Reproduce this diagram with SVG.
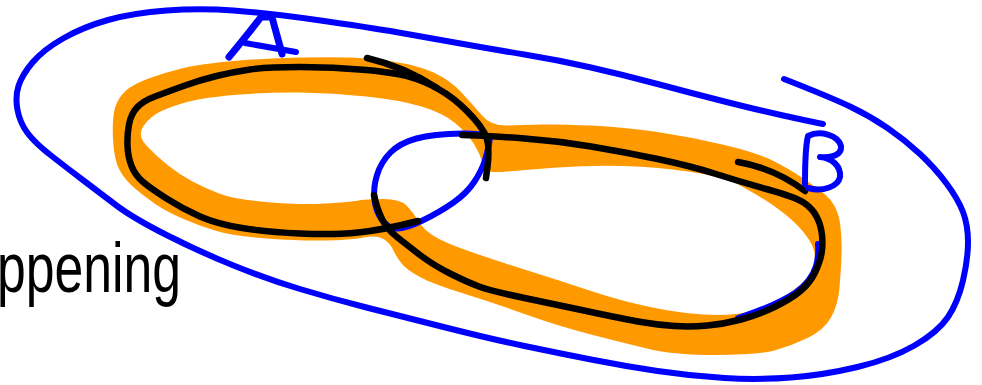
<svg xmlns="http://www.w3.org/2000/svg" width="982" height="385" viewBox="0 0 982 385">
<style>
.blue{fill:none;stroke:#0000ff;stroke-width:6;stroke-linecap:round;stroke-linejoin:round}
.ink{fill:none;stroke:#000;stroke-width:6.5;stroke-linecap:round;stroke-linejoin:round}
.hl{fill:#ff9900;fill-rule:evenodd;stroke:none}
.cap{font-family:"Liberation Sans",Arial,sans-serif;font-size:71px;fill:#000}
</style>
<rect width="982" height="385" fill="#fff"/>
<g id="highlight">
<path class="hl" d="M113,139 Q112,118 115,108 Q118,98 125.5,91 Q133,84 150,78 Q167,72 183.5,68 Q200,64 233.5,61 Q267,58 300,57.5 Q333,57 350,57.5 Q367,58 392,61.5 Q417,65 433.5,72.5 Q450,80 461.5,92.5 Q473,105 482,115.5 Q491,126 507.5,125.5 Q524,125 541,124.5 Q558,124 591,125.5 Q624,127 657.5,132 Q691,137 724.5,145 Q758,153 774.5,161.5 Q791,170 802.5,178 Q814,186 822,192 Q830,198 834.5,206 Q839,214 840.5,227 Q842,240 841.5,255 Q841,270 839.5,287.5 Q838,305 831,317.5 Q824,330 807.5,338 Q791,346 774.5,350.5 Q758,355 716,355 Q674,355 649,349 Q624,343 591,334.5 Q558,326 524.5,314 Q491,302 462,293 Q433,284 420,277 Q407,270 402,264 Q397,258 393.5,250.5 Q390,243 383.5,239 Q377,235 363.5,237.5 Q350,240 325,240.5 Q300,241 266.5,238.5 Q233,236 216.5,231 Q200,226 183.5,219 Q167,212 156,204.5 Q145,197 135,188.5 Q125,180 119.5,170 Q114,160 113,139 Z M146,145 Q137,135 143.5,126 Q150,117 158.5,112.5 Q167,108 183.5,103 Q200,98 233.5,95 Q267,92 300,92.5 Q333,93 366.5,96.5 Q400,100 421.5,106.5 Q443,113 455,123 Q467,133 473,142.5 Q479,152 481.5,160 Q484,168 487.5,170.5 Q491,173 507.5,171.5 Q524,170 557.5,167.5 Q591,165 624.5,166 Q658,167 691,172 Q724,177 734.5,182.5 Q745,188 758.5,196 Q772,204 783.5,213 Q795,222 802.5,231 Q810,240 813,247.5 Q816,255 814,264 Q812,273 803.5,281.5 Q795,290 782.5,297.5 Q770,305 755.5,310 Q741,315 716,315 Q691,315 657.5,308.5 Q624,302 591,291 Q558,280 524.5,269.5 Q491,259 467,250.5 Q443,242 433,235.5 Q423,229 418,220.5 Q413,212 406.5,205.5 Q400,199 383.5,199 Q367,199 358.5,200.5 Q350,202 325,203.5 Q300,205 266.5,202 Q233,199 219,193.5 Q205,188 192.5,181.5 Q180,175 167.5,165 Q155,155 146,145 Z"/>
</g>
<g id="outer-loop">
<path class="blue" d="M823,124 L815.5,122.5 Q808,121 783,115.5 Q758,110 724.5,101.5 Q691,93 657.5,84 Q624,75 591,67.5 Q558,60 524.5,54.5 Q491,49 460.5,43.5 Q430,38 398.5,32.5 Q367,27 317,20 Q267,13 233.5,10.5 Q200,8 166.5,10.5 Q133,13 108,20 Q83,27 63,38.5 Q43,50 32.5,62.5 Q22,75 18.5,86 Q15,97 17.5,110 Q20,123 27.5,133 Q35,143 51,155.5 Q67,168 83.5,180.5 Q100,193 116.5,205.5 Q133,218 166.5,235 Q200,252 233.5,265.5 Q267,279 300,289 Q333,299 366.5,307.5 Q400,316 445.5,327.5 Q491,339 524.5,346 Q558,353 591,359.5 Q624,366 657.5,371 Q691,376 724.5,378 Q758,380 791,377.5 Q824,375 857.5,367 Q891,359 914.5,345.5 Q938,332 948,317 Q958,302 963,280.5 Q968,259 968,242 Q968,225 963,212 Q958,199 946.5,183.5 Q935,168 920,154 Q905,140 887.5,128 Q870,116 850,106.5 Q830,97 784,79"/>
</g>
<g id="set-b-outline">
<path class="blue" d="M462,133.5 Q433,134 416.5,138.5 Q400,143 390.5,152.5 Q381,162 377,175 Q373,188 374.5,200 Q376,212 382,220 Q388,228 396.5,228.5 Q405,229 422.5,220.5 Q440,212 453.5,202.5 Q467,193 474.5,181.5 Q482,170 485,160 Q488,150 489.5,141.5 Q491,133 462,133.5 Z"/>
<path class="blue" d="M818,244 Q819,256 816,266 Q811,282 795,293 Q775,306 738,318"/>
</g>
<g id="loop-a">
<path class="ink" d="M486,178 L487.5,166.5 Q489,155 488,144 Q487,133 473.5,118 Q460,103 446.5,94 Q433,85 416.5,79 Q400,73 366.5,70 Q333,67 300,67 Q267,67 250,69.5 Q233,72 216.5,76 Q200,80 183.5,86 Q167,92 155,96.5 Q143,101 137,107.5 Q131,114 129,124.5 Q127,135 127.5,146 Q128,157 131.5,166 Q135,175 142.5,181.5 Q150,188 166.5,198.5 Q183,209 200,216.5 Q217,224 242,228 Q267,232 300,233.5 Q333,235 358,232.5 Q383,230 418,221"/>
<path class="ink" d="M367,58 Q405,67 437,88"/>
</g>
<g id="loop-b">
<path class="ink" d="M462,135 L476.5,135.5 Q491,136 524.5,138.5 Q558,141 591,146.5 Q624,152 657.5,159 Q691,166 716,174 Q741,182 768,189.5 Q795,197 803.5,202.5 Q812,208 816.5,216.5 Q821,225 822,235 Q823,245 821.5,253.5 Q820,262 815,272.5 Q810,283 800.5,291 Q791,299 774.5,307 Q758,315 741,319.5 Q724,324 707.5,325.5 Q691,327 674.5,326 Q658,325 641,322 Q624,319 591,312 Q558,305 524.5,298 Q491,291 479,286.5 Q467,282 450,273.5 Q433,265 420,255 Q407,245 397,237 Q387,229 382,219 Q377,209 374,195"/>
<path class="ink" d="M738,162 Q774,168 805,191"/>
</g>
<g id="label-a">
<path class="blue" style="stroke-width:7" d="M229,57 C237,47 250,32 261,17 L272,17 C275,29 279,42 282,54"/>
<path class="blue" d="M245,43 L296,52"/>
</g>
<g id="label-b">
<path class="blue" d="M805,184 C805,165 805,148 808,136 C820,130 838,135 841,146 C842,155 832,158 820,157 C832,158 841,166 840,177 C838,187 822,192 808,188"/>
</g>
<g id="caption">
<text class="cap" x="-3" y="292" textLength="184" lengthAdjust="spacingAndGlyphs">ppening</text>
</g>
</svg>
